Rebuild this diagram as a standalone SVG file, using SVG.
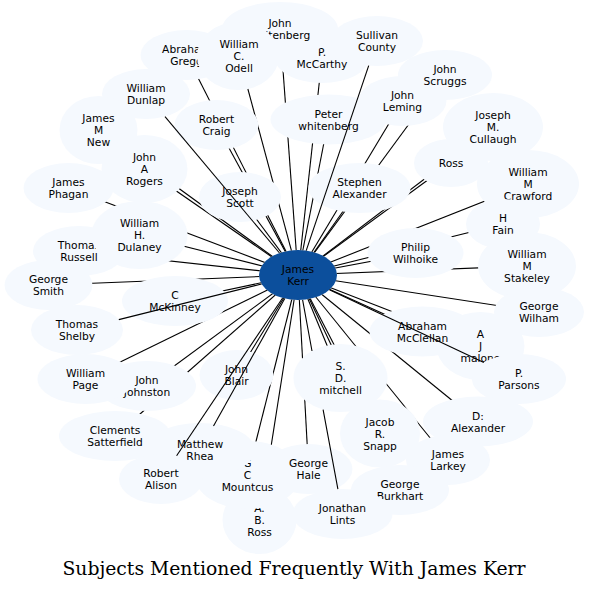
<svg xmlns="http://www.w3.org/2000/svg" width="590" height="590" viewBox="0 0 590 590">
<style>
.n ellipse{fill:#f5f9fe}
.k ellipse{fill:#0c4f9c}
text{font-family:"DejaVu Sans","Liberation Sans",sans-serif;font-size:10.7px;fill:#000;text-anchor:middle}
text.title{font-family:"DejaVu Serif","Liberation Serif",serif;font-size:18.8px}
.e line,.e path{stroke:#000;stroke-width:1.1;fill:none}
</style>
<defs>
<mask id="hide" maskUnits="userSpaceOnUse" x="0" y="0" width="590" height="590">
<rect width="590" height="590" fill="#fff"/>
<g fill="#000">
<ellipse cx="322" cy="58" rx="47" ry="25"/>
<ellipse cx="186.5" cy="55" rx="46" ry="25"/>
<ellipse cx="280" cy="29" rx="58" ry="27"/>
<ellipse cx="238" cy="56" rx="41" ry="34"/>
<ellipse cx="377" cy="41" rx="46" ry="25"/>
<ellipse cx="402.5" cy="101" rx="44" ry="25"/>
<ellipse cx="445" cy="75" rx="47" ry="25"/>
<ellipse cx="146" cy="94" rx="44" ry="25"/>
<ellipse cx="98.5" cy="130" rx="39" ry="34"/>
<ellipse cx="216.5" cy="125" rx="42" ry="25"/>
<ellipse cx="328.5" cy="119.5" rx="58" ry="25"/>
<ellipse cx="493" cy="127" rx="50" ry="34"/>
<ellipse cx="451" cy="163" rx="37" ry="24"/>
<ellipse cx="528" cy="184" rx="51" ry="34"/>
<ellipse cx="144.5" cy="169" rx="43" ry="34"/>
<ellipse cx="68.5" cy="188" rx="45" ry="25"/>
<ellipse cx="240" cy="197" rx="41" ry="25"/>
<ellipse cx="359.5" cy="188" rx="51" ry="25"/>
<ellipse cx="79" cy="251" rx="46" ry="25"/>
<ellipse cx="139.5" cy="235" rx="48" ry="34"/>
<ellipse cx="415.5" cy="253" rx="48" ry="25"/>
<ellipse cx="503" cy="224" rx="37" ry="25"/>
<ellipse cx="527" cy="266" rx="49" ry="34"/>
<ellipse cx="48.5" cy="285" rx="44" ry="25"/>
<ellipse cx="175" cy="301" rx="53" ry="25"/>
<ellipse cx="539" cy="312" rx="45" ry="25"/>
<ellipse cx="480.5" cy="346" rx="44" ry="34"/>
<ellipse cx="422.5" cy="331.5" rx="53" ry="25"/>
<ellipse cx="77" cy="330" rx="46" ry="25"/>
<ellipse cx="519" cy="379" rx="47" ry="25"/>
<ellipse cx="147" cy="386" rx="49" ry="25"/>
<ellipse cx="85.5" cy="379" rx="48" ry="25"/>
<ellipse cx="236.5" cy="375" rx="37" ry="25"/>
<ellipse cx="340.5" cy="378" rx="47" ry="34"/>
<ellipse cx="478" cy="421.5" rx="55" ry="25"/>
<ellipse cx="115" cy="436" rx="56" ry="25"/>
<ellipse cx="380" cy="433.5" rx="40" ry="34"/>
<ellipse cx="448" cy="460" rx="42" ry="25"/>
<ellipse cx="259.5" cy="520" rx="37" ry="34"/>
<ellipse cx="247.5" cy="475" rx="53" ry="34"/>
<ellipse cx="200" cy="450" rx="55" ry="27"/>
<ellipse cx="161" cy="479" rx="42" ry="25"/>
<ellipse cx="308.5" cy="469" rx="44" ry="25"/>
<ellipse cx="400" cy="490" rx="49" ry="25"/>
<ellipse cx="342.5" cy="514" rx="50" ry="25"/>
<ellipse cx="298" cy="275" rx="39" ry="25"/>
</g>
</mask>
</defs>
<rect width="590" height="590" fill="#fff"/>
<g id="nodes">
<g id="n-mccarthy" class="n"><ellipse cx="322" cy="58" rx="47" ry="25"/><text><tspan x="322" y="56">P.</tspan><tspan x="322" y="68">McCarthy</tspan></text></g>
<g id="n-gregg" class="n"><ellipse cx="186.5" cy="55" rx="46" ry="25"/><text><tspan x="186.5" y="53">Abraham</tspan><tspan x="186.5" y="65">Gregg</tspan></text></g>
<g id="n-jwhitenberg" class="n"><ellipse cx="280" cy="29" rx="58" ry="27"/><text><tspan x="280" y="27">John</tspan><tspan x="280" y="39">whitenberg</tspan></text></g>
<g id="n-odell" class="n"><ellipse cx="238" cy="56" rx="41" ry="34"/><text><tspan x="239" y="48">William</tspan><tspan x="239" y="60">C.</tspan><tspan x="239" y="72">Odell</tspan></text></g>
<g id="n-sullivan" class="n"><ellipse cx="377" cy="41" rx="46" ry="25"/><text><tspan x="377" y="39">Sullivan</tspan><tspan x="377" y="51">County</tspan></text></g>
<g id="n-leming" class="n"><ellipse cx="402.5" cy="101" rx="44" ry="25"/><text><tspan x="402.5" y="99">John</tspan><tspan x="402.5" y="111">Leming</tspan></text></g>
<g id="n-scruggs" class="n"><ellipse cx="445" cy="75" rx="47" ry="25"/><text><tspan x="445" y="73">John</tspan><tspan x="445" y="85">Scruggs</tspan></text></g>
<g id="n-dunlap" class="n"><ellipse cx="146" cy="94" rx="44" ry="25"/><text><tspan x="146" y="92">William</tspan><tspan x="146" y="104">Dunlap</tspan></text></g>
<g id="n-new" class="n"><ellipse cx="98.5" cy="130" rx="39" ry="34"/><text><tspan x="98.5" y="122">James</tspan><tspan x="98.5" y="134">M</tspan><tspan x="98.5" y="146">New</tspan></text></g>
<g id="n-craig" class="n"><ellipse cx="216.5" cy="125" rx="42" ry="25"/><text><tspan x="216.5" y="123">Robert</tspan><tspan x="216.5" y="135">Craig</tspan></text></g>
<g id="n-pwhitenberg" class="n"><ellipse cx="328.5" cy="119.5" rx="58" ry="25"/><text><tspan x="328.5" y="117.5">Peter</tspan><tspan x="328.5" y="129.5">whitenberg</tspan></text></g>
<g id="n-cullaugh" class="n"><ellipse cx="493" cy="127" rx="50" ry="34"/><text><tspan x="493" y="119">Joseph</tspan><tspan x="493" y="131">M.</tspan><tspan x="493" y="143">Cullaugh</tspan></text></g>
<g id="n-ross" class="n"><ellipse cx="451" cy="163" rx="37" ry="24"/><text x="451" y="167">Ross</text></g>
<g id="n-crawford" class="n"><ellipse cx="528" cy="184" rx="51" ry="34"/><text><tspan x="528" y="176">William</tspan><tspan x="528" y="188">M</tspan><tspan x="528" y="200">Crawford</tspan></text></g>
<g id="n-rogers" class="n"><ellipse cx="144.5" cy="169" rx="43" ry="34"/><text><tspan x="144.5" y="161">John</tspan><tspan x="144.5" y="173">A</tspan><tspan x="144.5" y="185">Rogers</tspan></text></g>
<g id="n-phagan" class="n"><ellipse cx="68.5" cy="188" rx="45" ry="25"/><text><tspan x="68.5" y="186">James</tspan><tspan x="68.5" y="198">Phagan</tspan></text></g>
<g id="n-scott" class="n"><ellipse cx="240" cy="197" rx="41" ry="25"/><text><tspan x="240" y="195">Joseph</tspan><tspan x="240" y="207">Scott</tspan></text></g>
<g id="n-salexander" class="n"><ellipse cx="359.5" cy="188" rx="51" ry="25"/><text><tspan x="359.5" y="186">Stephen</tspan><tspan x="359.5" y="198">Alexander</tspan></text></g>
<g id="n-russell" class="n"><ellipse cx="79" cy="251" rx="46" ry="25"/><text><tspan x="79" y="249">Thomas</tspan><tspan x="79" y="261">Russell</tspan></text></g>
<g id="n-dulaney" class="n"><ellipse cx="139.5" cy="235" rx="48" ry="34"/><text><tspan x="139.5" y="227">William</tspan><tspan x="139.5" y="239">H.</tspan><tspan x="139.5" y="251">Dulaney</tspan></text></g>
<g id="n-wilhoike" class="n"><ellipse cx="415.5" cy="253" rx="48" ry="25"/><text><tspan x="415.5" y="251">Philip</tspan><tspan x="415.5" y="263">Wilhoike</tspan></text></g>
<g id="n-fain" class="n"><ellipse cx="503" cy="224" rx="37" ry="25"/><text><tspan x="503" y="222">H</tspan><tspan x="503" y="234">Fain</tspan></text></g>
<g id="n-stakeley" class="n"><ellipse cx="527" cy="266" rx="49" ry="34"/><text><tspan x="527" y="258">William</tspan><tspan x="527" y="270">M</tspan><tspan x="527" y="282">Stakeley</tspan></text></g>
<g id="n-smith" class="n"><ellipse cx="48.5" cy="285" rx="44" ry="25"/><text><tspan x="48.5" y="283">George</tspan><tspan x="48.5" y="295">Smith</tspan></text></g>
<g id="n-mckinney" class="n"><ellipse cx="175" cy="301" rx="53" ry="25"/><text><tspan x="175" y="299">C</tspan><tspan x="175" y="311">McKinney</tspan></text></g>
<g id="n-wilham" class="n"><ellipse cx="539" cy="312" rx="45" ry="25"/><text><tspan x="539" y="310">George</tspan><tspan x="539" y="322">Wilham</tspan></text></g>
<g id="n-malone" class="n"><ellipse cx="480.5" cy="346" rx="44" ry="34"/><text><tspan x="480.5" y="338">A</tspan><tspan x="480.5" y="350">J</tspan><tspan x="480.5" y="362">malone</tspan></text></g>
<g id="n-mcclellan" class="n"><ellipse cx="422.5" cy="331.5" rx="53" ry="25"/><text><tspan x="422.5" y="329.5">Abraham</tspan><tspan x="422.5" y="341.5">McClellan</tspan></text></g>
<g id="n-shelby" class="n"><ellipse cx="77" cy="330" rx="46" ry="25"/><text><tspan x="77" y="328">Thomas</tspan><tspan x="77" y="340">Shelby</tspan></text></g>
<g id="n-parsons" class="n"><ellipse cx="519" cy="379" rx="47" ry="25"/><text><tspan x="519" y="377">P.</tspan><tspan x="519" y="389">Parsons</tspan></text></g>
<g id="n-johnston" class="n"><ellipse cx="147" cy="386" rx="49" ry="25"/><text><tspan x="147" y="384">John</tspan><tspan x="147" y="396">Johnston</tspan></text></g>
<g id="n-page" class="n"><ellipse cx="85.5" cy="379" rx="48" ry="25"/><text><tspan x="85.5" y="377">William</tspan><tspan x="85.5" y="389">Page</tspan></text></g>
<g id="n-blair" class="n"><ellipse cx="236.5" cy="375" rx="37" ry="25"/><text><tspan x="236.5" y="373">John</tspan><tspan x="236.5" y="385">Blair</tspan></text></g>
<g id="n-mitchell" class="n"><ellipse cx="340.5" cy="378" rx="47" ry="34"/><text><tspan x="340.5" y="370">S.</tspan><tspan x="340.5" y="382">D.</tspan><tspan x="340.5" y="394">mitchell</tspan></text></g>
<g id="n-dalexander" class="n"><ellipse cx="478" cy="421.5" rx="55" ry="25"/><text><tspan x="478" y="419.5">D:</tspan><tspan x="478" y="431.5">Alexander</tspan></text></g>
<g id="n-satterfield" class="n"><ellipse cx="115" cy="436" rx="56" ry="25"/><text><tspan x="115" y="434">Clements</tspan><tspan x="115" y="446">Satterfield</tspan></text></g>
<g id="n-snapp" class="n"><ellipse cx="380" cy="433.5" rx="40" ry="34"/><text><tspan x="380" y="425.5">Jacob</tspan><tspan x="380" y="437.5">R.</tspan><tspan x="380" y="449.5">Snapp</tspan></text></g>
<g id="n-larkey" class="n"><ellipse cx="448" cy="460" rx="42" ry="25"/><text><tspan x="448" y="458">James</tspan><tspan x="448" y="470">Larkey</tspan></text></g>
<g id="n-abross" class="n"><ellipse cx="259.5" cy="520" rx="37" ry="34"/><text><tspan x="259.5" y="512">A.</tspan><tspan x="259.5" y="524">B.</tspan><tspan x="259.5" y="536">Ross</tspan></text></g>
<g id="n-mountcus" class="n"><ellipse cx="247.5" cy="475" rx="53" ry="34"/><text><tspan x="247.5" y="467">G</tspan><tspan x="247.5" y="479">C</tspan><tspan x="247.5" y="491">Mountcus</tspan></text></g>
<g id="n-rhea" class="n"><ellipse cx="200" cy="450" rx="55" ry="27"/><text><tspan x="200" y="448">Matthew</tspan><tspan x="200" y="460">Rhea</tspan></text></g>
<g id="n-alison" class="n"><ellipse cx="161" cy="479" rx="42" ry="25"/><text><tspan x="161" y="477">Robert</tspan><tspan x="161" y="489">Alison</tspan></text></g>
<g id="n-hale" class="n"><ellipse cx="308.5" cy="469" rx="44" ry="25"/><text><tspan x="308.5" y="467">George</tspan><tspan x="308.5" y="479">Hale</tspan></text></g>
<g id="n-burkhart" class="n"><ellipse cx="400" cy="490" rx="49" ry="25"/><text><tspan x="400" y="488">George</tspan><tspan x="400" y="500">Burkhart</tspan></text></g>
<g id="n-lints" class="n"><ellipse cx="342.5" cy="514" rx="50" ry="25"/><text><tspan x="342.5" y="512">Jonathan</tspan><tspan x="342.5" y="524">Lints</tspan></text></g>
<g id="n-kerr" class="k"><ellipse cx="298" cy="275" rx="39" ry="25"/><text><tspan x="298" y="273">James</tspan><tspan x="298" y="285">Kerr</tspan></text></g>
</g>
<g id="connectors" class="e">
<g mask="url(#hide)">
<line x1="298" y1="275" x2="322" y2="58"/>
<line x1="298" y1="275" x2="186.5" y2="55"/>
<line x1="298" y1="275" x2="280" y2="29"/>
<line x1="298" y1="275" x2="239" y2="56"/>
<line x1="298" y1="275" x2="402.5" y2="101"/>
<line x1="298" y1="275" x2="445" y2="75"/>
<line x1="298" y1="275" x2="98.5" y2="130"/>
<line x1="298" y1="275" x2="216.5" y2="125"/>
<line x1="298" y1="275" x2="328.5" y2="119.5"/>
<line x1="298" y1="275" x2="493" y2="127"/>
<line x1="298" y1="275" x2="451" y2="163"/>
<line x1="298" y1="275" x2="528" y2="184"/>
<line x1="298" y1="275" x2="144.5" y2="169"/>
<line x1="298" y1="275" x2="68.5" y2="188"/>
<line x1="298" y1="275" x2="240" y2="197"/>
<line x1="298" y1="275" x2="359.5" y2="188"/>
<line x1="298" y1="275" x2="79" y2="251"/>
<line x1="298" y1="275" x2="139.5" y2="235"/>
<line x1="298" y1="275" x2="415.5" y2="253"/>
<line x1="298" y1="275" x2="503" y2="224"/>
<line x1="298" y1="275" x2="527" y2="266"/>
<line x1="298" y1="275" x2="48.5" y2="285"/>
<line x1="298" y1="275" x2="175" y2="301"/>
<line x1="298" y1="275" x2="539" y2="312"/>
<line x1="298" y1="275" x2="480.5" y2="346"/>
<line x1="298" y1="275" x2="422.5" y2="331.5"/>
<line x1="298" y1="275" x2="147" y2="386"/>
<line x1="298" y1="275" x2="85.5" y2="379"/>
<line x1="298" y1="275" x2="236.5" y2="375"/>
<line x1="298" y1="275" x2="340.5" y2="378"/>
<line x1="298" y1="275" x2="478" y2="421.5"/>
<line x1="298" y1="275" x2="115" y2="436"/>
<line x1="298" y1="275" x2="380" y2="433.5"/>
<line x1="298" y1="275" x2="448" y2="460"/>
<line x1="298" y1="275" x2="259.5" y2="520"/>
<line x1="298" y1="275" x2="247.5" y2="475"/>
<line x1="298" y1="275" x2="308.5" y2="469"/>
<line x1="298" y1="275" x2="400" y2="490"/>
</g>
<line x1="279.5" y1="253" x2="165" y2="116.6"/>
<line x1="306.2" y1="250.6" x2="368.7" y2="65.6"/>
<line x1="329.4" y1="289.8" x2="483.8" y2="362.4"/>
<line x1="282.6" y1="298" x2="176.6" y2="455.8"/>
<line x1="284.8" y1="298.5" x2="213.5" y2="425.9"/>
<line x1="261.6" y1="284" x2="118.8" y2="319.6"/>
<path d="M302.6,299.8 L312,351 M323.1,409.6 L337.9,489.1"/>
</g>
<text class="title" x="294" y="575">Subjects Mentioned Frequently With James Kerr</text>
</svg>
